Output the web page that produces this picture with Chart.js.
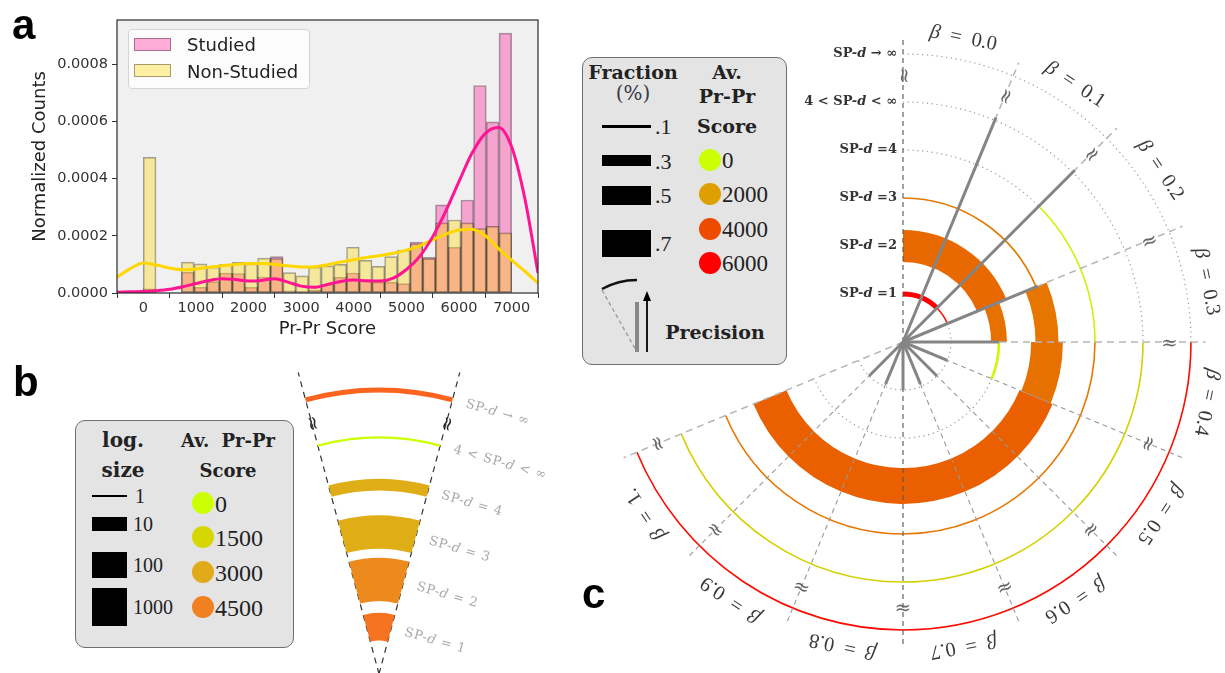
<!DOCTYPE html>
<html>
<head>
<meta charset="utf-8">
<title>Pr-Pr score and shortest path distance</title>
<script src="https://cdn.jsdelivr.net/npm/chart.js@4.4.1/dist/chart.umd.min.js"></script>
<style>
  body { margin: 0; background: #fff; }
  #page { position: relative; width: 1225px; height: 673px; overflow: hidden; }
  canvas { position: absolute; }
  .tag { position: absolute; font: bold 42px "Liberation Sans", Arial, sans-serif; color: #000; line-height: 1; }
  .box { position: absolute; background: #e4e4e4; border: 1.5px solid #6e6e6e; border-radius: 10px; box-sizing: border-box; }
  .t { position: absolute; white-space: nowrap; transform: translate(-50%, -50%); line-height: 1; }
  .l { position: absolute; white-space: nowrap; transform: translateY(-50%); line-height: 1; }
  .hd { font: bold 19px "DejaVu Serif", serif; color: #222; }
  .num { font: 23px "Liberation Serif", serif; color: #222; }
  .sw { position: absolute; background: #000; }
  .dot { position: absolute; border-radius: 50%; width: 22px; height: 22px; transform: translate(-50%, -50%); }
  #legA { position: absolute; left: 128px; top: 29px; width: 182px; height: 60px; background: rgba(255,255,255,0.8); border: 1px solid #d4d4d4; border-radius: 4px; box-sizing: border-box; }
  .patch { position: absolute; left: 134px; width: 37px; height: 13px; box-sizing: border-box; border: 1px solid rgba(0,0,0,0.35); }
  .lt { position: absolute; left: 187px; font: 18px "DejaVu Sans", sans-serif; color: #222; transform: translateY(-50%); line-height: 1; white-space: nowrap; }
</style>
</head>
<body>
<div id="page">
  <canvas id="hist" width="550" height="345" style="left:0;top:0"></canvas>
  <canvas id="fan" width="300" height="318" style="left:280px;top:355px"></canvas>
  <canvas id="polar" width="665" height="673" style="left:560px;top:0"></canvas>

  <div class="tag" style="left:12px;top:4px">a</div>
  <div class="tag" style="left:13px;top:361px">b</div>
  <div class="tag" style="left:582px;top:573px">c</div>

  <div id="legA"></div>
  <div class="patch" style="top:38px;background:rgba(255,20,147,0.35)"></div>
  <div class="patch" style="top:64px;background:rgba(255,215,0,0.35)"></div>
  <div class="lt" style="top:45px">Studied</div>
  <div class="lt" style="top:72px">Non-Studied</div>

  <div class="box" style="left:75px;top:420px;width:219px;height:228px"></div>
  <div class="t hd" style="left:123px;top:440px;font-size:20px">log.</div>
  <div class="t hd" style="left:123px;top:470px;font-size:20px">size</div>
  <div class="t hd" style="left:228px;top:440px;font-size:18px;word-spacing:6px">Av. Pr-Pr</div>
  <div class="t hd" style="left:228px;top:470px;font-size:18px">Score</div>
  <div id="legB"></div>

  <div class="box" style="left:582px;top:57px;width:205px;height:308px"></div>
  <div class="t hd" style="left:633px;top:72px">Fraction</div>
  <div class="t" style="left:633px;top:93px;font:20px 'DejaVu Serif',serif;color:#3a3a48">(%)</div>
  <div class="t hd" style="left:727px;top:72px">Av.</div>
  <div class="t hd" style="left:727px;top:96px">Pr-Pr</div>
  <div class="t hd" style="left:727px;top:126px">Score</div>
  <div id="legC"></div>
  <svg style="position:absolute;left:590px;top:270px" width="70" height="90">
    <line x1="12" y1="20" x2="47" y2="82" stroke="#999" stroke-width="1.3" stroke-dasharray="4 3"/>
    <path d="M 12 19 A 72 72 0 0 1 47 10" fill="none" stroke="#111" stroke-width="2.5"/>
    <line x1="47" y1="32" x2="47" y2="82" stroke="#888" stroke-width="4"/>
    <line x1="57" y1="82" x2="57" y2="28" stroke="#000" stroke-width="1.8"/>
    <polygon points="57,21 53,31 61,31" fill="#000"/>
  </svg>
  <div class="t hd" style="left:715px;top:332px">Precision</div>
</div>

<script>
// ---------- panel a: histogram of Pr-Pr scores ----------
// 29 equal bins between 0 and 7000, normalized counts in units of 1e-4
const binStart = 0, binEnd = 7000;
const studied    = [0.15, 0, 0, 0.73, 0.2, 0.4, 0.7, 0.68, 0.2, 0.56, 1.27, 0.08, 0.05, 0.1, 0.3,
                    0.55, 0.7, 0.42, 0.38, 0.38, 0.33, 1.78, 1.25, 3.08, 1.6, 3.25, 7.25, 5.98, 9.08];
const nonStudied = [4.74, 0, 0, 1.08, 1.02, 0.9, 1.0, 1.07, 1.02, 1.22, 1.2, 0.71, 0.6, 0.9, 0.95,
                    1.0, 1.6, 1.14, 0.93, 1.27, 1.5, 1.72, 1.2, 2.45, 2.55, 2.45, 2.25, 2.33, 2.1];

// kernel density curves, same units
const kdeX = [-500, -250, 0, 250, 500, 750, 1000, 1250, 1500, 1750, 2000, 2250, 2500, 2750, 3000, 3250, 3500,
              3750, 4000, 4250, 4500, 4750, 5000, 5250, 5500, 5750, 6000, 6250, 6500, 6750, 7000, 7250, 7500];
const kdeStudied    = [0.03, 0.04, 0.05, 0.08, 0.13, 0.22, 0.33, 0.44, 0.5, 0.47, 0.42, 0.44, 0.5, 0.38, 0.24, 0.2, 0.3,
                       0.4, 0.45, 0.43, 0.42, 0.52, 0.82, 1.27, 1.97, 2.87, 3.9, 4.9, 5.58, 5.78, 5.1, 3.3, 0.7];
const kdeNonStudied = [0.55, 0.85, 1.05, 0.98, 0.87, 0.81, 0.84, 0.9, 0.95, 1.0, 1.03, 1.03, 1.0, 0.95, 0.91, 0.92, 0.99,
                       1.08, 1.16, 1.24, 1.31, 1.39, 1.5, 1.65, 1.86, 2.06, 2.2, 2.23, 2.0, 1.55, 1.15, 0.76, 0.35];

const xTicks = [0, 1000, 2000, 3000, 4000, 5000, 6000, 7000];
const yTicks = [0, 0.0002, 0.0004, 0.0006, 0.0008];

// ---------- panel b: wedge of SP-d rings ----------
const bLevel = [1, 2, 3, 4, 5, 6];
const bSize  = [150, 3000, 450, 7, 1.2, 2];
const bScore = [5000, 4150, 2850, 2850, 0, 5600];
const bNames = ['SP-d = 1', 'SP-d = 2', 'SP-d = 3', 'SP-d = 4', '4 < SP-d < ∞', 'SP-d → ∞'];
const bScoreStops  = [0, 1500, 3000, 4500, 6000];
const bScoreColors = ['#ccff00', '#d6d600', '#e0aa18', '#f08020', '#ff5a1e'];
const bSizeKeys  = [1, 10, 100, 1000];
const bScoreKeys = [0, 1500, 3000, 4500];

// ---------- panel c: rings per β ----------
const betaNames = ['0.0', '0.1', '0.2', '0.3', '0.4', '0.5', '0.6', '0.7', '0.8', '0.9', '1.'];
const cNames = ['SP-d =1', 'SP-d =2', 'SP-d =3', 'SP-d =4', '4 < SP-d < ∞', 'SP-d → ∞'];
// one entry per ring segment: SP-d level, β range, fraction, average score
const cLevel = [1, 1, 2, 2, 2, 3, 3, 3, 3, 4, 4, 5, 6];
const cFrom  = [0, 0.2, 0, 0.3, 0.4, 0, 0.3, 0.4, 0.5, 0.2, 0.4, 0.4, 0.4];
const cTo    = [0.2, 0.3, 0.3, 0.4, 0.5, 0.3, 0.4, 0.5, 1.1, 0.4, 1.1, 1.1, 1.1];
const cFrac  = [0.15, 0.06, 0.82, 0.42, 0.09, 0.06, 0.6, 0.82, 0.92, 0.06, 0.06, 0.05, 0.06];
const cScore = [6000, 5600, 3300, 3100, 150, 2900, 3000, 3100, 3500, 300, 3000, 1000, 5700];
// precision spokes for β = 0.1 ... 1.0
const precision = [5.06, 5.06, 3.04, 2.0, 1.0, 1.0, 0.95, 1.0, 0.95, 1.0];
const cScoreStops  = [0, 2000, 4000, 6000];
const cScoreColors = ['#ccff00', '#dda000', '#ee4b00', '#ff0000'];
const cFracKeys = [0.1, 0.3, 0.5, 0.7];

const PI = Math.PI;

function colorFor(stops, colors, v) {
  const rgb = colors.map(h => [1, 3, 5].map(i => parseInt(h.slice(i, i + 2), 16)));
  if (v <= stops[0]) return `rgb(${rgb[0]})`;
  for (let i = 1; i < stops.length; i++) {
    if (v <= stops[i]) {
      const t = (v - stops[i - 1]) / (stops[i] - stops[i - 1]);
      return `rgb(${rgb[i - 1].map((a, j) => Math.round(a + (rgb[i][j] - a) * t))})`;
    }
  }
  return `rgb(${rgb[rgb.length - 1]})`;
}
const sizeWidth = s => 12 * Math.log10(s) + 1.5;
const fracWidth = f => Math.max(1.6, 40 * f - 1);

// text with italic math letters (d, β)
function richText(ctx, str, x, y, size, weight, family, align) {
  const segs = [];
  for (const ch of str) {
    const it = ch === 'd' || ch === 'β';
    const last = segs[segs.length - 1];
    if (last && last.it === it) last.t += ch; else segs.push({ t: ch, it });
  }
  const font = it => `${it ? 'italic ' : ''}${weight} ${size}px ${family}`;
  let w = 0;
  for (const s of segs) { ctx.font = font(s.it); s.w = ctx.measureText(s.t).width; w += s.w; }
  let px = align === 'right' ? x - w : align === 'center' ? x - w / 2 : x;
  ctx.textAlign = 'left';
  for (const s of segs) { ctx.font = font(s.it); ctx.fillText(s.t, px, y); px += s.w; }
}

Chart.defaults.font.family = '"DejaVu Sans", sans-serif';

// ---------- chart a ----------
const nBins = studied.length;
const binW = (binEnd - binStart) / nBins;
const centers = studied.map((_, i) => binStart + (i + 0.5) * binW);
const toPts = (xs, ys) => xs.map((x, i) => ({ x, y: ys[i] * 1e-4 }));

const plotFrame = {
  id: 'plotFrame',
  beforeDatasetsDraw(chart) {
    const { ctx, chartArea: a } = chart;
    ctx.save();
    ctx.fillStyle = '#f0f0f0';
    ctx.fillRect(a.left, a.top, a.right - a.left, a.bottom - a.top);
    ctx.restore();
  },
  afterDraw(chart) {
    const { ctx, chartArea: a } = chart;
    ctx.save();
    ctx.strokeStyle = '#2a2a2a';
    ctx.lineWidth = 1.2;
    ctx.strokeRect(a.left, a.top, a.right - a.left, a.bottom - a.top);
    ctx.restore();
  }
};

const barStyle = { barPercentage: 1, categoryPercentage: 1, grouped: false, borderWidth: 1,
                   borderColor: 'rgba(0,0,0,0.35)', borderSkipped: false };

new Chart(document.getElementById('hist'), {
  type: 'bar',
  data: {
    datasets: [
      { type: 'line', label: 'Studied KDE', data: toPts(kdeX, kdeStudied), borderColor: '#ff1493',
        borderWidth: 3, pointRadius: 0, cubicInterpolationMode: 'monotone', order: 0 },
      { type: 'line', label: 'Non-Studied KDE', data: toPts(kdeX, kdeNonStudied), borderColor: '#ffd700',
        borderWidth: 3, pointRadius: 0, cubicInterpolationMode: 'monotone', order: 1 },
      Object.assign({ label: 'Non-Studied', data: toPts(centers, nonStudied),
        backgroundColor: 'rgba(255,215,0,0.35)', order: 2 }, barStyle),
      Object.assign({ label: 'Studied', data: toPts(centers, studied),
        backgroundColor: 'rgba(255,20,147,0.35)', order: 3 }, barStyle)
    ]
  },
  options: {
    responsive: false, animation: false, events: [],
    layout: { padding: { top: 20, right: 12, left: 0, bottom: 0 } },
    plugins: { legend: { display: false }, tooltip: { enabled: false } },
    scales: {
      x: {
        type: 'linear', min: -500, max: 7500, offset: false,
        afterBuildTicks: s => { s.ticks = xTicks.map(v => ({ value: v })); },
        afterFit: s => { s.height = 52; },
        grid: { drawOnChartArea: false, tickLength: 5, color: '#333' },
        border: { display: false },
        ticks: { callback: v => String(v), font: { size: 14.5 }, color: '#333', padding: 2, maxRotation: 0 },
        title: { display: true, text: 'Pr-Pr Score', font: { size: 18, lineHeight: 1.2 }, color: '#222',
                 padding: { top: 0, bottom: 5 } }
      },
      y: {
        min: 0, max: 0.000954,
        afterBuildTicks: s => { s.ticks = yTicks.map(v => ({ value: v })); },
        afterFit: s => { s.width = 117; },
        grid: { drawOnChartArea: false, tickLength: 5, color: '#333' },
        border: { display: false },
        ticks: { callback: v => v.toFixed(4), font: { size: 14.5 }, color: '#333', padding: 4 },
        title: { display: true, text: 'Normalized Counts', font: { size: 18, lineHeight: 1.2 }, color: '#222',
                 padding: { top: 30, bottom: 0 } }
      }
    }
  },
  plugins: [plotFrame]
});

// ---------- chart b ----------
const fanUnit = 47.3, fanApex = [99, 319], fanW = 300, fanH = 318;
const fanHalf = 15 * PI / 180;

const fanPlugin = {
  id: 'fanRings',
  afterDraw(chart) {
    const { ctx } = chart;
    const sx = chart.scales.x, sy = chart.scales.y;
    const cx = sx.getPixelForValue(0), cy = sy.getPixelForValue(0);
    const unit = sx.getPixelForValue(1) - cx;
    const pt = (r, a) => [sx.getPixelForValue(r * Math.sin(a)), sy.getPixelForValue(r * Math.cos(a))];
    ctx.save();
    // wedge edges
    ctx.setLineDash([6, 5]);
    ctx.strokeStyle = '#333';
    ctx.lineWidth = 1.2;
    for (const s of [-1, 1]) {
      const [x1, y1] = pt(6.6, s * fanHalf);
      ctx.beginPath(); ctx.moveTo(cx, cy); ctx.lineTo(x1, y1); ctx.stroke();
    }
    ctx.setLineDash([]);
    // rings
    ctx.lineCap = 'butt';
    bLevel.forEach((lv, i) => {
      ctx.strokeStyle = colorFor(bScoreStops, bScoreColors, bScore[i]);
      ctx.lineWidth = sizeWidth(bSize[i]);
      ctx.beginPath();
      ctx.arc(cx, cy, lv * unit, -PI / 2 - fanHalf, -PI / 2 + fanHalf);
      ctx.stroke();
    });
    // axis breaks
    ctx.fillStyle = '#222';
    ctx.font = '19px "DejaVu Serif", serif';
    ctx.textAlign = 'center'; ctx.textBaseline = 'middle';
    for (const s of [-1, 1]) {
      const [x, y] = pt(5.48, s * fanHalf);
      ctx.save(); ctx.translate(x, y); ctx.rotate(s * fanHalf + PI / 2); ctx.fillText('≈', 0, 0); ctx.restore();
    }
    // level names
    ctx.fillStyle = '#a8a8a8';
    ctx.letterSpacing = '0.8px';
    bLevel.forEach((lv, i) => {
      const [x, y] = pt(lv, fanHalf);
      ctx.save(); ctx.translate(x, y); ctx.rotate(16 * PI / 180);
      richText(ctx, bNames[i], 14, 0, 13, 'normal', '"DejaVu Serif", serif', 'left');
      ctx.restore();
    });
    ctx.restore();
  }
};

const bareOptions = (xmin, xmax, ymin, ymax) => ({
  responsive: false, animation: false, events: [],
  layout: { padding: 0 },
  plugins: { legend: { display: false }, tooltip: { enabled: false } },
  scales: {
    x: { type: 'linear', display: false, min: xmin, max: xmax },
    y: { type: 'linear', display: false, min: ymin, max: ymax }
  }
});

new Chart(document.getElementById('fan'), {
  type: 'scatter',
  data: { datasets: [] },
  options: bareOptions(-fanApex[0] / fanUnit, (fanW - fanApex[0]) / fanUnit,
                       (fanApex[1] - fanH) / fanUnit, fanApex[1] / fanUnit),
  plugins: [fanPlugin]
});

// ---------- chart c ----------
const polUnit = 48, polCenter = [343, 342], polW = 665, polH = 673;
// dotted guide circles: level, β range
const guides = [[4, 0, 0.2], [5, 0, 0.4], [6, 0, 0.4], [1, 0.3, 1.1], [2, 0.5, 1.1]];

const polarPlugin = {
  id: 'polarRings',
  afterDraw(chart) {
    const { ctx } = chart;
    const sx = chart.scales.x, sy = chart.scales.y;
    const cx = sx.getPixelForValue(0), cy = sy.getPixelForValue(0);
    const unit = sx.getPixelForValue(1) - cx;
    const theta = b => b * 1.25 * PI;           // β step of 0.1 -> 22.5 degrees, clockwise from top
    const phi = b => theta(b) - PI / 2;
    const pt = (r, b) => [sx.getPixelForValue(r * Math.sin(theta(b))), sy.getPixelForValue(r * Math.cos(theta(b)))];
    ctx.save();

    // dotted guides
    ctx.setLineDash([1.2, 3.6]);
    ctx.strokeStyle = '#9a9a9a';
    ctx.lineWidth = 1.2;
    guides.forEach(([lv, b0, b1]) => {
      ctx.beginPath(); ctx.arc(cx, cy, lv * unit, phi(b0), phi(b1)); ctx.stroke();
    });

    // ring segments
    ctx.setLineDash([]);
    ctx.lineCap = 'butt';
    cLevel.forEach((lv, i) => {
      ctx.strokeStyle = colorFor(cScoreStops, cScoreColors, cScore[i]);
      ctx.lineWidth = fracWidth(cFrac[i]);
      ctx.beginPath(); ctx.arc(cx, cy, lv * unit, phi(cFrom[i]), phi(cTo[i])); ctx.stroke();
    });

    // β rays
    for (let k = 0; k <= 11; k++) {
      const b = k / 10;
      const vertical = k === 0 || k === 8;
      const light = k <= 4 || k === 11;
      ctx.strokeStyle = vertical ? '#555' : light ? '#b5b5b5' : '#999';
      ctx.setLineDash(vertical ? [5, 4] : light ? [7, 5] : [5, 4]);
      ctx.lineWidth = vertical ? 1.1 : light ? 1.5 : 1.1;
      const [x1, y1] = pt(k === 0 ? 6.35 : 6.3, b);
      ctx.beginPath(); ctx.moveTo(cx, cy); ctx.lineTo(x1, y1); ctx.stroke();
    }
    ctx.setLineDash([]);

    // precision spokes
    ctx.strokeStyle = '#858585';
    ctx.lineWidth = 3;
    precision.forEach((p, i) => {
      const [x1, y1] = pt(p, (i + 1) / 10);
      ctx.beginPath(); ctx.moveTo(cx, cy); ctx.lineTo(x1, y1); ctx.stroke();
    });

    // axis breaks
    ctx.fillStyle = '#666';
    ctx.font = '20px "DejaVu Serif", serif';
    ctx.textAlign = 'center'; ctx.textBaseline = 'middle';
    for (let k = 0; k <= 11; k++) {
      const b = k / 10;
      const [x, y] = pt(5.55, b);
      ctx.save(); ctx.translate(x, y);
      ctx.rotate(k <= 4 ? theta(b) + PI / 2 : theta(b) - PI);
      ctx.fillText('≈', 0, 0); ctx.restore();
    }

    // β labels around the rim
    ctx.fillStyle = '#3a3a3a';
    betaNames.forEach((name, k) => {
      const b = (k + 0.5) / 10;
      const [x, y] = pt(6.45, b);
      ctx.save(); ctx.translate(x, y); ctx.rotate(theta(b));
      richText(ctx, 'β  =  ' + name, 0, 0, 20.5, 'normal', '"Liberation Serif", serif', 'center');
      ctx.restore();
    });

    // SP-d level names along the vertical axis
    ctx.fillStyle = '#333';
    cNames.forEach((name, i) => {
      richText(ctx, name, cx - 6, sy.getPixelForValue(i + 1), 13, 'bold', '"DejaVu Serif", serif', 'right');
    });
    ctx.restore();
  }
};

new Chart(document.getElementById('polar'), {
  type: 'scatter',
  data: { datasets: [] },
  options: bareOptions(-polCenter[0] / polUnit, (polW - polCenter[0]) / polUnit,
                       (polCenter[1] - polH) / polUnit, polCenter[1] / polUnit),
  plugins: [polarPlugin]
});

// ---------- legend keys ----------
const legB = document.getElementById('legB');
const bSizeY = [496, 524, 565, 607], bScoreY = [503, 537, 572, 607];
bSizeKeys.forEach((s, i) => {
  const h = sizeWidth(s);
  legB.insertAdjacentHTML('beforeend',
    `<div class="sw" style="left:92px;width:35px;top:${bSizeY[i] - h / 2}px;height:${h}px"></div>` +
    `<div class="l num" style="left:${i ? 133 : 135}px;top:${bSizeY[i]}px;font-size:20px">${s}</div>`);
});
bScoreKeys.forEach((v, i) => {
  legB.insertAdjacentHTML('beforeend',
    `<div class="dot" style="left:203px;top:${bScoreY[i]}px;background:${colorFor(bScoreStops, bScoreColors, v)}"></div>` +
    `<div class="l num" style="left:215px;top:${bScoreY[i] + 1}px;font-size:24px">${v}</div>`);
});

const legC = document.getElementById('legC');
const cFracY = [126, 160.5, 195, 243], cScoreY = [160, 194, 229, 263];
cFracKeys.forEach((f, i) => {
  const h = fracWidth(f);
  legC.insertAdjacentHTML('beforeend',
    `<div class="sw" style="left:602px;width:49px;top:${cFracY[i] - h / 2}px;height:${h}px"></div>` +
    `<div class="l num" style="left:655px;top:${cFracY[i] + 1}px;font-size:22px">${String(f).slice(1)}</div>`);
});
cScoreStops.forEach((v, i) => {
  legC.insertAdjacentHTML('beforeend',
    `<div class="dot" style="left:710px;top:${cScoreY[i]}px;background:${cScoreColors[i]}"></div>` +
    `<div class="l num" style="left:722px;top:${cScoreY[i] + 1}px">${v}</div>`);
});
</script>
</body>
</html>
